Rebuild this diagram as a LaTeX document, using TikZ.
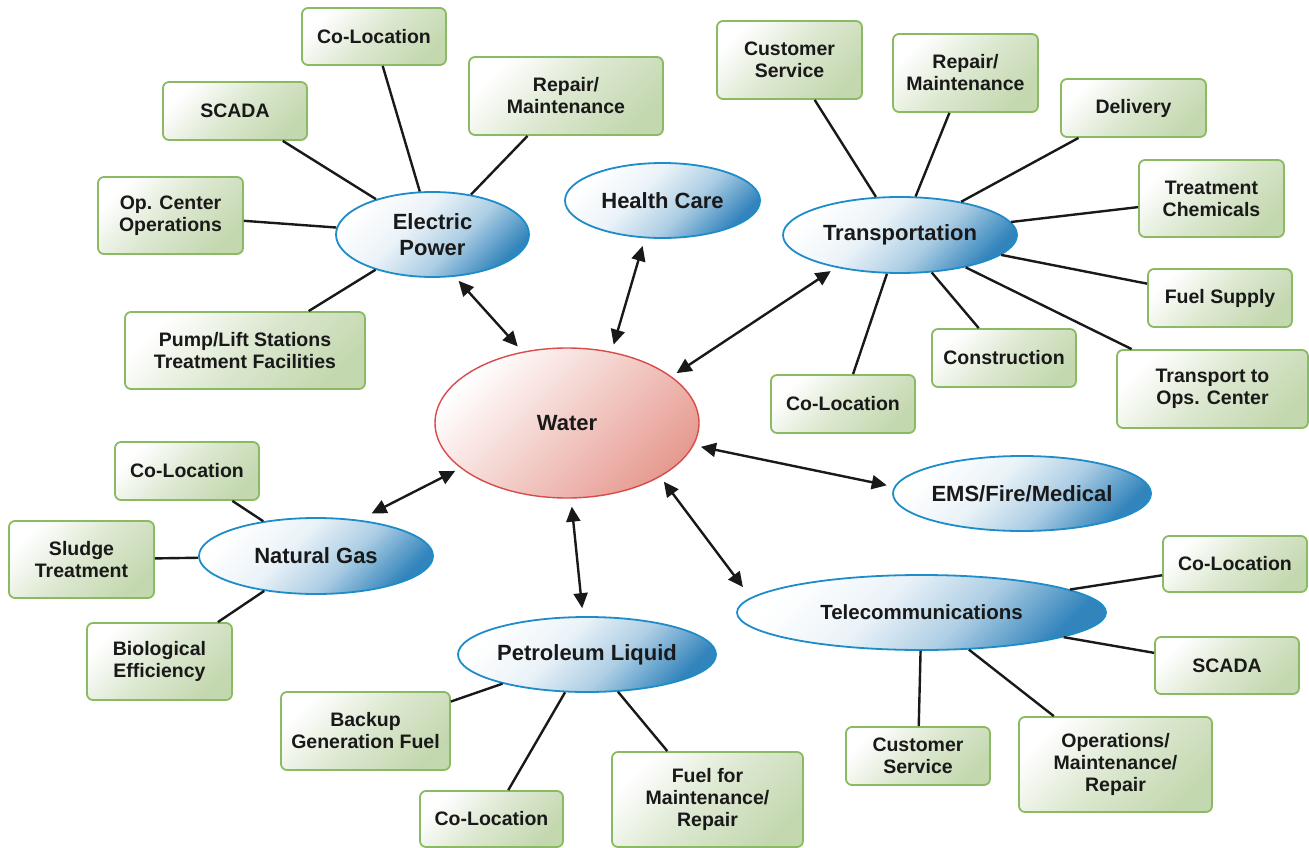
\documentclass[tikz,border=0pt]{standalone}
\usepackage{fontspec}
\setmainfont{Liberation Sans}
\usetikzlibrary{shapes.geometric,arrows.meta}
\definecolor{boxborder}{RGB}{138,186,100}
\definecolor{boxfill}{RGB}{196,216,176}
\definecolor{ellborder}{RGB}{30,140,200}
\definecolor{ellfill}{RGB}{50,132,188}
\definecolor{watborder}{RGB}{215,75,75}
\definecolor{watfill}{RGB}{230,155,145}
\definecolor{linecol}{RGB}{25,25,25}
\definecolor{textcol}{RGB}{25,25,25}
\pgfdeclareverticalshading{ellshade}{100bp}{color(0bp)=(ellfill); color(25bp)=(ellfill); color(42bp)=(ellfill!40!white); color(58bp)=(ellfill!10!white); color(75bp)=(white); color(100bp)=(white)}
\pgfdeclareverticalshading{boxshade}{100bp}{color(0bp)=(boxfill); color(25bp)=(boxfill); color(50bp)=(boxfill!60!white); color(75bp)=(white); color(100bp)=(white)}
\pgfdeclareverticalshading{watshade}{100bp}{color(0bp)=(watfill); color(25bp)=(watfill); color(50bp)=(watfill!50!white); color(75bp)=(white); color(100bp)=(white)}
\newcommand{\bxfont}{\fontsize{19.5pt}{22pt}\selectfont\bfseries}
\newcommand{\elfont}{\fontsize{22pt}{26pt}\selectfont\bfseries}
\tikzset{
  bx/.style={draw=boxborder, line width=1.8pt, rounded corners=6pt, shading=boxshade, shading angle=45, align=center, font=\bxfont, text=textcol, inner sep=0pt},
  el/.style={ellipse, draw=ellborder, line width=1.8pt, shading=ellshade, shading angle=45, align=center, font=\elfont, text=textcol, inner sep=0pt},
  wat/.style={ellipse, draw=watborder, line width=1.4pt, shading=watshade, shading angle=45, align=center, font=\elfont, text=textcol, inner sep=0pt},
  conn/.style={draw=linecol, line width=2.4pt},
  arr/.style={{Triangle[length=15pt,width=14pt]}-{Triangle[length=15pt,width=14pt]}, draw=linecol, fill=linecol, line width=2.4pt}
}
\begin{document}
\begin{tikzpicture}[x=1pt,y=-1pt]
\useasboundingbox (0,0) rectangle (1309,848);
% ellipses
\node[wat, minimum width=264pt, minimum height=150pt] (water) at (567,423) {Water};
\node[el, minimum width=193pt, minimum height=85pt] (ep) at (432.5,234.5) {Electric\\Power};
\node[el, minimum width=195pt, minimum height=75pt] (hc) at (662.5,200.5) {Health Care};
\node[el, minimum width=234pt, minimum height=76pt] (tr) at (900,235) {Transportation};
\node[el, minimum width=234pt, minimum height=76pt] (ng) at (316,556) {Natural Gas};
\node[el, minimum width=258pt, minimum height=75pt] (pl) at (587,654.5) {Petroleum Liquid};
\node[el, minimum width=369pt, minimum height=75pt, font=\fontsize{20.5pt}{24pt}\selectfont\bfseries] (te) at (921.5,612.5) {Telecommunications};
\node[el, minimum width=258pt, minimum height=75pt] (ems) at (1022,493.5) {EMS/Fire/Medical};
% electric power boxes
\node[bx, minimum width=144pt, minimum height=57pt] (epco) at (374,36.5) {Co-Location};
\node[bx, minimum width=144pt, minimum height=58pt] (epscada) at (235,111) {SCADA};
\node[bx, minimum width=145pt, minimum height=77pt] (epop) at (170.5,215.5) {Op. Center\\Operations};
\node[bx, minimum width=240pt, minimum height=77pt] (eppump) at (245,350.5) {Pump/Lift Stations\\Treatment Facilities};
\node[bx, minimum width=194pt, minimum height=78pt] (eprep) at (566,96) {Repair/\\Maintenance};
% transportation boxes
\node[bx, minimum width=145pt, minimum height=78pt] (trcs) at (789.5,60) {Customer\\Service};
\node[bx, minimum width=145pt, minimum height=78pt] (trrep) at (965.5,73) {Repair/\\Maintenance};
\node[bx, minimum width=145pt, minimum height=58pt] (trdel) at (1133.5,108) {Delivery};
\node[bx, minimum width=145pt, minimum height=77pt] (trchem) at (1211.5,198.5) {Treatment\\Chemicals};
\node[bx, minimum width=144pt, minimum height=58pt] (trfuel) at (1220,298) {Fuel Supply};
\node[bx, minimum width=144pt, minimum height=58pt] (trcon) at (1004,358) {Construction};
\node[bx, minimum width=191pt, minimum height=78pt] (trops) at (1212.5,389) {Transport to\\Ops. Center};
\node[bx, minimum width=144pt, minimum height=58pt] (trco) at (843,404) {Co-Location};
% natural gas boxes
\node[bx, minimum width=144pt, minimum height=58pt] (ngco) at (187,471) {Co-Location};
\node[bx, minimum width=145pt, minimum height=77pt] (ngsl) at (81.5,559.5) {Sludge\\Treatment};
\node[bx, minimum width=145pt, minimum height=77pt] (ngbio) at (159.5,661.5) {Biological\\Efficiency};
% petroleum boxes
\node[bx, minimum width=169pt, minimum height=78pt] (plback) at (365.5,731) {Backup\\Generation Fuel};
\node[bx, minimum width=143pt, minimum height=56pt] (plco) at (491.5,819) {Co-Location};
\node[bx, minimum width=191pt, minimum height=95pt] (plfuel) at (707.5,799.5) {Fuel for\\Maintenance/\\Repair};
% telecom boxes
\node[bx, minimum width=144pt, minimum height=56pt] (teco) at (1235,564) {Co-Location};
\node[bx, minimum width=144pt, minimum height=57pt] (tescada) at (1227,665.5) {SCADA};
\node[bx, minimum width=144pt, minimum height=58pt] (tecs) at (918,756) {Customer\\Service};
\node[bx, minimum width=193pt, minimum height=95pt] (teops) at (1115.5,764.5) {Operations/\\Maintenance/\\Repair};
% connectors
\foreach \a in {epco,epscada,epop,eppump,eprep} \draw[conn] (\a) -- (ep);
\foreach \a in {trcs,trrep,trdel,trchem,trfuel,trcon,trops,trco} \draw[conn] (\a) -- (tr);
\foreach \a in {ngco,ngsl,ngbio} \draw[conn] (\a) -- (ng);
\foreach \a in {plback,plco,plfuel} \draw[conn] (\a) -- (pl);
\foreach \a in {teco,tescada,tecs,teops} \draw[conn] (\a) -- (te);
% arrows
\draw[arr, shorten <=5.5pt, shorten >=7pt] (ep.-62.1) -- (water.122.7);
\draw[arr, shorten <=8pt, shorten >=7.4pt] (hc.245.1) -- (water.58.9);
\draw[arr, shorten <=6.2pt, shorten >=6pt] (tr.207.1) -- (water.24.4);
\draw[arr, shorten <=7.3pt, shorten >=7.5pt] (water.-10.1) -- (ems.177.3);
\draw[arr, shorten <=6pt, shorten >=13pt] (water.-30.7) -- (te.175);
\draw[arr, shorten <=8pt, shorten >=8pt] (water.-87.6) -- (pl.96.3);
\draw[arr, shorten <=14pt, shorten >=6pt] (ng.40.8) -- (water.203);
\end{tikzpicture}
\end{document}
